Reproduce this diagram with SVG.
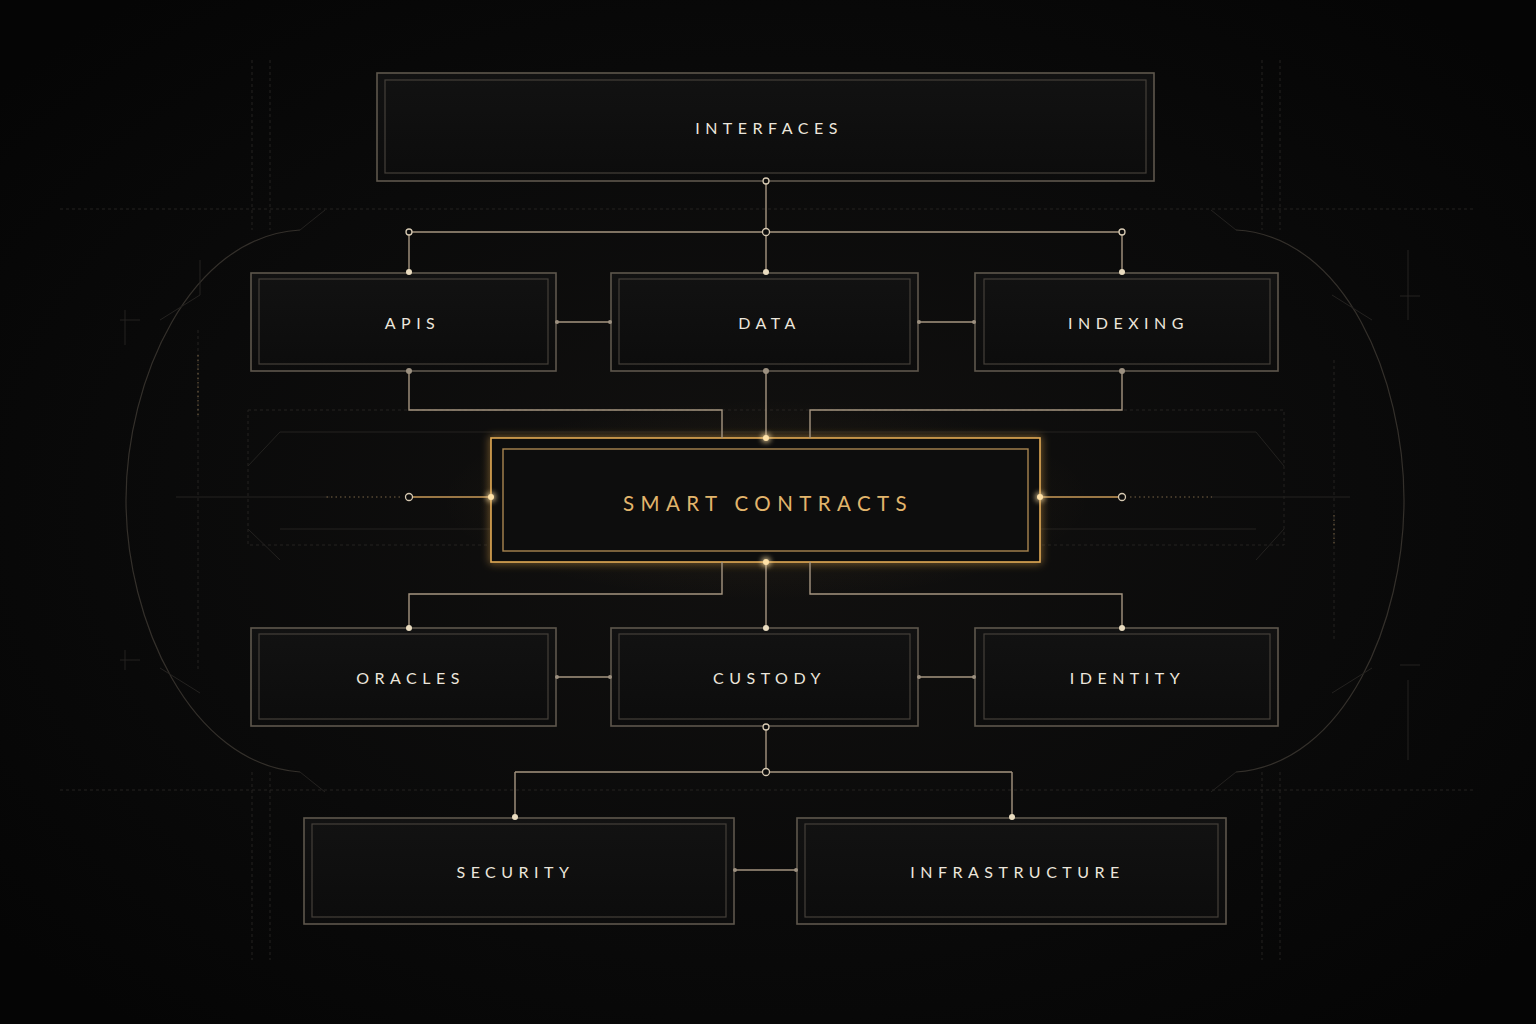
<svg xmlns="http://www.w3.org/2000/svg" width="1536" height="1024" viewBox="0 0 1536 1024">
<defs>
<radialGradient id="bg" cx="50%" cy="50%" r="65%">
<stop offset="0" stop-color="#121110"/>
<stop offset="0.6" stop-color="#0a0a0a"/>
<stop offset="1" stop-color="#050505"/>
</radialGradient>
<linearGradient id="boxfill" x1="0" y1="0" x2="0" y2="1">
<stop offset="0" stop-color="#121212"/>
<stop offset="1" stop-color="#0c0c0c"/>
</linearGradient>
<radialGradient id="scglow" cx="50%" cy="50%" r="50%">
<stop offset="0" stop-color="#c8913e" stop-opacity="0.10"/>
<stop offset="1" stop-color="#c8913e" stop-opacity="0"/>
</radialGradient>
<filter id="glow" x="-20%" y="-50%" width="140%" height="200%">
<feGaussianBlur stdDeviation="4" result="b"/>
<feMerge><feMergeNode in="b"/><feMergeNode in="SourceGraphic"/></feMerge>
</filter>
<filter id="dotglow" x="-300%" y="-300%" width="700%" height="700%">
<feGaussianBlur stdDeviation="3" result="b"/>
<feMerge><feMergeNode in="b"/><feMergeNode in="b"/><feMergeNode in="SourceGraphic"/></feMerge>
</filter>
</defs>
<style>
.outer{fill:url(#boxfill);stroke:#5e574d;stroke-width:1.6}
.inner{fill:none;stroke:#45403a;stroke-width:1.2}
.lbl{font-family:"Lato","Inter","Liberation Sans",sans-serif;font-size:16px;fill:#ece6dc;letter-spacing:5.5px;text-anchor:middle;dominant-baseline:central}
.gold{fill:#e2b56c;font-size:20.5px;letter-spacing:6.4px}
.wire{fill:none;stroke:#a59580;stroke-width:1.4}
.gwire{fill:none;stroke:#c99a58;stroke-width:1.4}
.dot{fill:#eadcc0}
.mdot{fill:#9c9080}
.ring{fill:#0c0c0c;stroke:#d6c9b2;stroke-width:1.3}
.faint{fill:none;stroke:#242220;stroke-width:1}
.faintd{fill:none;stroke:#242220;stroke-width:1;stroke-dasharray:3 3}
.arc{fill:none;stroke:#34302b;stroke-width:1.2}
.tick{stroke:#7a6446;stroke-width:1;stroke-dasharray:1.5 3}
</style>
<rect width="1536" height="1024" fill="url(#bg)"/>

<g id="background">
<path class="arc" d="M300 230 C190 236 126 380 126 500 C126 620 190 764 300 772"/>
<path class="arc" d="M1236 230 C1346 236 1404 380 1404 500 C1404 620 1346 764 1236 772"/>
<path class="faintd" d="M60 209 H1476 M60 790 H1476"/>
<path class="faintd" d="M252 60 V230 M270 60 V230 M1262 60 V230 M1280 60 V230 M252 772 V960 M270 772 V960 M1262 772 V960 M1280 772 V960"/>
<path class="faintd" d="M248 410 H1284 V545 H248 Z"/>
<path class="faint" d="M280 432 H1256 M280 529 H1256 M248 466 L280 432 M1284 466 L1256 432 M248 529 L280 560 M1284 529 L1256 560"/>
<path class="faint" d="M300 230 L325 210 M1236 230 L1211 210 M300 772 L325 792 M1236 772 L1211 792"/>
<path class="faint" d="M160 320 L200 295 L200 260 M1372 320 L1332 295 M160 668 L200 693 M1372 668 L1332 693"/>
<path class="faintd" d="M198 330 V670 M1334 360 V640"/>
<path class="tick" d="M198 355 V415 M1334 515 V545"/>
<path class="faint" d="M176 497 H330 M1210 497 H1350" stroke="#3a342c"/>
<path class="faint" d="M125 310 V345 M120 320 H140 M1408 250 V320 M1400 296 H1420 M125 650 V670 M120 660 H140 M1408 680 V760 M1400 665 H1420"/>
<path class="faint" d="M385 105 H598 M385 117 H598 M934 105 H1146 M934 117 H1146"/>
</g>

<g id="node-interfaces">
<rect class="outer" x="377" y="73" width="777" height="108"/>
<rect class="inner" x="385" y="80" width="761" height="93"/>
<text class="lbl" x="769" y="127">INTERFACES</text>
</g>
<g id="node-apis">
<rect class="outer" x="251" y="273" width="305" height="98"/>
<rect class="inner" x="259" y="279" width="289" height="85"/>
<text class="lbl" x="412.5" y="322">APIS</text>
</g>
<g id="node-data">
<rect class="outer" x="611" y="273" width="307" height="98"/>
<rect class="inner" x="619" y="279" width="291" height="85"/>
<text class="lbl" x="769.5" y="322">DATA</text>
</g>
<g id="node-indexing">
<rect class="outer" x="975" y="273" width="303" height="98"/>
<rect class="inner" x="984" y="279" width="286" height="85"/>
<text class="lbl" x="1128.5" y="322">INDEXING</text>
</g>

<g id="node-smart-contracts">
<rect x="440" y="400" width="652" height="200" fill="url(#scglow)"/>
<rect x="491" y="438" width="549" height="124" fill="#0d0c0b" stroke="#e0a954" stroke-width="1.6" filter="url(#glow)"/>
<rect x="503" y="449" width="525" height="102" fill="none" stroke="#a98550" stroke-width="1.4"/>
<text class="lbl gold" x="768" y="503">SMART CONTRACTS</text>
</g>

<g id="node-oracles">
<rect class="outer" x="251" y="628" width="305" height="98"/>
<rect class="inner" x="259" y="634" width="289" height="85"/>
<text class="lbl" x="410.5" y="677">ORACLES</text>
</g>
<g id="node-custody">
<rect class="outer" x="611" y="628" width="307" height="98"/>
<rect class="inner" x="619" y="634" width="291" height="85"/>
<text class="lbl" x="769.5" y="677">CUSTODY</text>
</g>
<g id="node-identity">
<rect class="outer" x="975" y="628" width="303" height="98"/>
<rect class="inner" x="984" y="634" width="286" height="85"/>
<text class="lbl" x="1127.5" y="677">IDENTITY</text>
</g>

<g id="node-security">
<rect class="outer" x="304" y="818" width="430" height="106"/>
<rect class="inner" x="312" y="824" width="414" height="93"/>
<text class="lbl" x="515.5" y="871">SECURITY</text>
</g>
<g id="node-infrastructure">
<rect class="outer" x="797" y="818" width="429" height="106"/>
<rect class="inner" x="805" y="824" width="413" height="93"/>
<text class="lbl" x="1017.5" y="871">INFRASTRUCTURE</text>
</g>

<g id="connectors">
<path class="wire" d="M766 181 V273 M409 232 H1122 M409 232 V273 M1122 232 V273"/>
<path class="wire" d="M556 322 H611 M918 322 H975"/>
<path class="wire" d="M409 371 V410 H722 V438 M766 371 V438 M1122 371 V410 H810 V438"/>
<path class="gwire" d="M491 497 H409 M1040 497 H1122"/>
<path class="tick" d="M400 497 H326 M1130 497 H1212" stroke="#9a7a50" stroke-width="1.6"/>
<path class="wire" d="M722 562 V594 H409 V628 M766 562 V628 M810 562 V594 H1122 V628"/>
<path class="wire" d="M556 677 H611 M918 677 H975"/>
<path class="wire" d="M766 726 V772 M515 772 H1012 M515 772 V818 M1012 772 V818"/>
<path class="wire" d="M734 870 H797"/>
<circle class="ring" cx="766" cy="181" r="3"/>
<circle class="ring" cx="766" cy="232" r="3.5"/>
<circle class="ring" cx="409" cy="232" r="3"/>
<circle class="ring" cx="1122" cy="232" r="3"/>
<circle class="dot" cx="409" cy="272" r="3"/>
<circle class="dot" cx="766" cy="272" r="3"/>
<circle class="dot" cx="1122" cy="272" r="3"/>
<circle class="mdot" cx="557" cy="322" r="2"/><circle class="mdot" cx="610" cy="322" r="2"/>
<circle class="mdot" cx="919" cy="322" r="2"/><circle class="mdot" cx="974" cy="322" r="2"/>
<circle class="mdot" cx="409" cy="371" r="3"/>
<circle class="mdot" cx="766" cy="371" r="3"/>
<circle class="mdot" cx="1122" cy="371" r="3"/>
<circle class="ring" cx="409" cy="497" r="3.5"/>
<circle class="ring" cx="1122" cy="497" r="3.5"/>
<circle cx="766" cy="438" r="3" fill="#ffe2a8" filter="url(#dotglow)"/>
<circle cx="766" cy="562" r="3" fill="#ffe2a8" filter="url(#dotglow)"/>
<circle cx="491" cy="497" r="3" fill="#ffe2a8" filter="url(#dotglow)"/>
<circle cx="1040" cy="497" r="3" fill="#ffe2a8" filter="url(#dotglow)"/>
<circle class="dot" cx="409" cy="628" r="3"/>
<circle class="dot" cx="766" cy="628" r="3"/>
<circle class="dot" cx="1122" cy="628" r="3"/>
<circle class="mdot" cx="557" cy="677" r="2"/><circle class="mdot" cx="610" cy="677" r="2"/>
<circle class="mdot" cx="919" cy="677" r="2"/><circle class="mdot" cx="974" cy="677" r="2"/>
<circle class="ring" cx="766" cy="727" r="3"/>
<circle class="ring" cx="766" cy="772" r="3.5"/>
<circle class="dot" cx="515" cy="817" r="3"/>
<circle class="dot" cx="1012" cy="817" r="3"/>
<circle class="mdot" cx="735" cy="870" r="2"/><circle class="mdot" cx="796" cy="870" r="2"/>
</g>
</svg>
